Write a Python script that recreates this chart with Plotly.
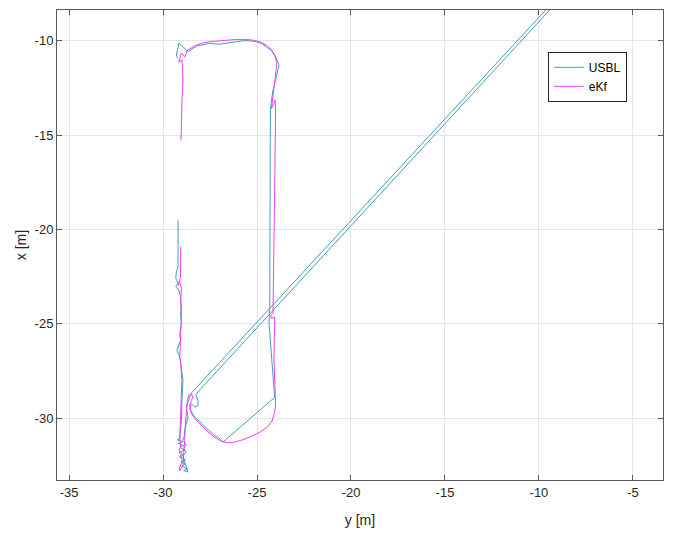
import plotly.graph_objects as go

# ---- data (horizontal axis: y [m], vertical axis: x [m]) ----
usbl_y = [-29.20, -29.20, -29.29, -29.32, -29.20, -29.32, -29.15, -29.07, -29.02, -29.07,
          -29.02, -29.11, -29.07, -29.26, -29.11, -29.02, -28.94, -28.99, -29.02, -29.11,
          -29.25, -28.95, -29.20, -28.90, -29.10, -28.85, -29.15, -28.90, -29.10, -28.80,
          -29.05, -28.80, -29.00, -28.70, -28.90, -28.67,
          -28.85, -28.95, -28.76, -28.90, -28.76, -28.94, -28.85, -28.85, -28.67, -28.76,
          -28.51,
          -4.00, -3.80,
          -28.26, -28.14, -28.14, -28.31, -28.49, -28.58, -28.40, -28.30, -28.14, -28.02,
          -27.87, -27.80, -27.61, -27.45, -27.25, -27.05, -26.89, -26.81,
          -24.06, -24.15, -24.23, -24.36, -24.32, -24.29, -24.29, -24.23, -24.15, -23.97,
          -23.83, -23.90, -24.05, -24.20, -24.50, -24.75, -25.03, -25.40, -25.76, -26.10,
          -26.45, -26.98, -27.52, -27.90, -28.22, -28.67,
          -29.15, -29.29, -29.20]
usbl_x = [-19.51, -21.99, -22.25, -22.59, -22.85, -23.01, -23.23, -23.58, -24.11, -24.45,
          -24.98, -25.51, -25.88, -26.41, -26.76, -27.29, -28.00, -29.06, -30.12, -31.08,
          -31.15, -31.25, -31.35, -31.45, -31.55, -31.70, -31.80, -31.95, -32.05, -32.20,
          -32.30, -32.45, -32.55, -32.70, -32.78, -32.86,
          -32.24, -32.00, -31.80, -31.60, -31.40, -31.18, -30.90, -30.65, -29.95, -29.42,
          -28.69,
          -2.30, -2.28,
          -28.74, -29.06, -29.33, -29.42, -29.24, -29.50, -29.77, -29.98, -30.12, -30.20,
          -30.39, -30.45, -30.65, -30.75, -30.92, -31.02, -31.18, -31.27,
          -28.90, -27.82, -26.76, -24.98, -24.11, -17.92, -13.68, -13.15, -12.62, -11.91,
          -11.29, -11.08, -10.80, -10.55, -10.32, -10.15, -10.05, -10.00, -10.00, -10.06,
          -10.11, -10.18, -10.14, -10.20, -10.28, -10.58,
          -10.11, -10.76, -10.93]

ekf_y = [-29.06, -29.07, -29.20, -29.11, -29.02, -29.06, -29.02, -29.06, -29.11, -29.07,
         -29.02, -29.00, -29.06, -29.11, -29.06, -29.15, -29.00, -29.11, -28.98, -29.02,
         -29.12, -29.11,
         -28.94, -28.88, -28.85, -28.81, -28.76, -28.70, -28.63, -28.49, -28.40, -28.49,
         -28.58, -28.49, -28.22, -27.96, -27.61, -27.25, -26.89, -26.54, -26.20, -25.80,
         -25.30, -24.85, -24.45, -24.20, -24.06, -24.01, -24.04, -24.06,
         -24.10, -24.06, -24.06, -24.23, -24.27, -24.15, -24.10,
         -24.06, -24.01, -24.03, -24.23, -23.97, -23.97, -24.00, -24.15, -24.32, -24.50,
         -24.70, -24.86, -25.20, -25.56, -26.10, -26.63, -27.10, -27.52, -27.90, -28.22,
         -28.69, -28.85, -29.02, -29.16, -28.99, -28.94, -28.99, -29.02, -29.04]
ekf_x = [-20.93, -22.52, -22.96, -22.78, -23.14, -23.76, -24.64, -25.51, -26.76, -26.94,
         -27.64, -28.00, -29.77, -31.01, -31.54, -31.70, -31.85, -32.07, -32.20, -32.42,
         -32.60, -32.78,
         -32.51, -31.89, -31.18, -30.30, -29.59, -29.06, -28.80, -28.71, -28.89, -29.06,
         -29.33, -29.77, -30.12, -30.39, -30.74, -31.01, -31.24, -31.31, -31.27, -31.16,
         -30.97, -30.75, -30.48, -30.15, -29.70, -29.24, -28.60, -28.17,
         -26.76, -24.98, -24.64, -24.71, -24.55, -24.45, -21.47,
         -17.92, -13.68, -13.15, -13.59, -11.46, -11.13, -10.90, -10.60, -10.38, -10.23,
         -10.12, -10.05, -9.97, -9.93, -9.93, -9.96, -10.00, -10.05, -10.12, -10.23,
         -10.49, -10.86, -10.65, -11.13, -11.02, -12.08, -13.15, -14.47, -15.27]

xtick_vals = [-35, -30, -25, -20, -15, -10, -5]
xtick_text = ["-35", "-30", "-25", "-20", "-15", "-10", "-5"]
ytick_vals = [-30, -25, -20, -15, -10]
ytick_text = ["-30", "-25", "-20", "-15", "-10"]

x_range = [-35.64, -3.40]
y_range = [-33.28, -8.37]

FONT = "Liberation Sans, Arial, sans-serif"
AX = "#262626"

fig = go.Figure()
fig.add_trace(go.Scatter(x=usbl_y, y=usbl_x, mode="lines", name="USBL",
                         line=dict(color="#3f9fba", width=1)))
fig.add_trace(go.Scatter(x=ekf_y, y=ekf_x, mode="lines", name="eKf",
                         line=dict(color="#f23ff2", width=1)))

axis_common = dict(
    showline=True, linecolor="#5a5a5a", linewidth=1, mirror="ticks",
    ticks="inside", ticklen=5, tickcolor="#5a5a5a",
    showgrid=True, gridcolor="#e6e6e6", gridwidth=1, zeroline=False,
    tickfont=dict(family=FONT, size=13, color=AX),
    automargin=False,
)

fig.update_layout(
    width=673, height=537,
    margin=dict(l=57, r=10, t=10, b=57),
    paper_bgcolor="white", plot_bgcolor="white",
    font=dict(family=FONT, color=AX),
    xaxis=dict(range=x_range, tickvals=xtick_vals, ticktext=xtick_text,
               title=dict(text="y [m]", font=dict(family=FONT, size=14, color=AX), standoff=16),
               **axis_common),
    yaxis=dict(range=y_range, tickvals=ytick_vals, ticktext=ytick_text,
               title=dict(text="x [m]", font=dict(family=FONT, size=14, color=AX), standoff=4),
               **axis_common),
    legend=dict(x=0.81, y=0.911, xanchor="left", yanchor="top",
                bgcolor="white", bordercolor=AX, borderwidth=1,
                font=dict(family=FONT, size=12, color="#000000"),
                itemwidth=30, tracegroupgap=0),
    showlegend=True,
)

fig.write_html("out.html")
